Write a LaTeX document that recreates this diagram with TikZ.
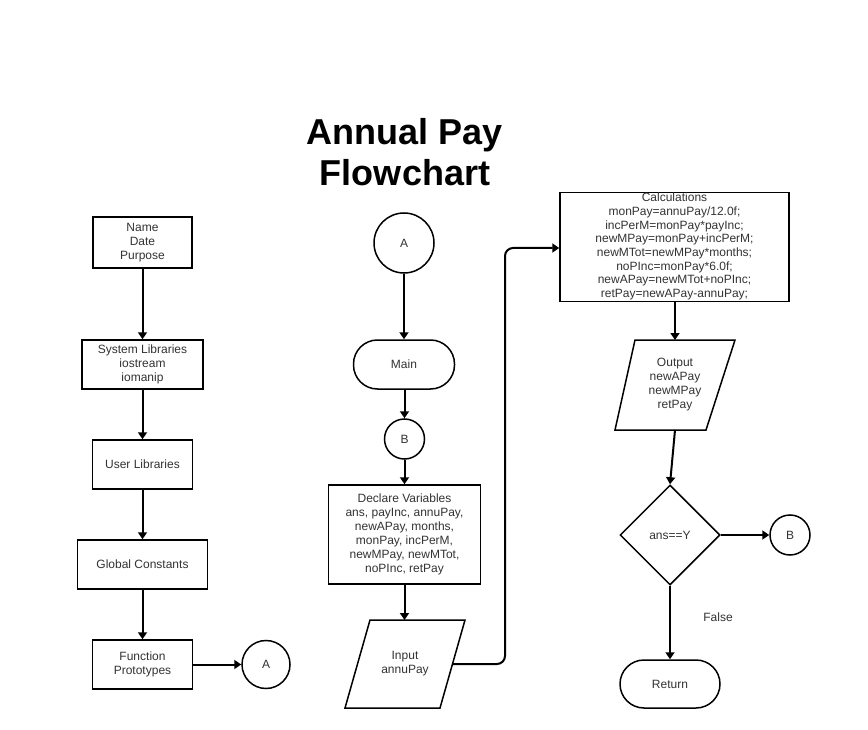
\documentclass[tikz,border=0pt]{standalone}
\usepackage{fontspec}
\setmainfont{Liberation Sans}
\usetikzlibrary{arrows.meta,shapes.geometric}
\definecolor{txt}{HTML}{333333}
\begin{document}
\begin{tikzpicture}[x=1pt,y=-1pt,
  every node/.style={font=\fontsize{12}{14}\selectfont,text=txt,inner sep=0pt,align=center},
  procbox/.style={draw,line width=1.5pt,rectangle},
  termbox/.style={draw,line width=1.5pt,rectangle,rounded corners=24pt},
  conn/.style={draw,line width=1.5pt,circle},
  decbox/.style={draw,line width=1.5pt,diamond,aspect=1,minimum width=100pt,minimum height=100pt},
  shapeline/.style={line width=1.5pt,line join=miter},
  flow/.style={line width=2pt,-{Triangle[length=7pt,width=9pt]}}
]
\useasboundingbox[fill=white] (0,0) rectangle (868,730);

% title
\node[font=\fontsize{36}{41}\selectfont\bfseries,text=black] (title) at (405,152) {Annual Pay\\Flowchart};

% left column
\node[procbox,minimum width=99pt,minimum height=51pt] (name) at (142.5,242.5) {Name\\Date\\Purpose};
\node[procbox,minimum width=121pt,minimum height=49pt] (sys) at (142.5,364.5) {System Libraries\\iostream\\iomanip};
\node[procbox,minimum width=100pt,minimum height=49pt] (user) at (142.5,464.5) {User Libraries};
\node[procbox,minimum width=130pt,minimum height=49pt] (glob) at (142.5,564.5) {Global Constants};
\node[procbox,minimum width=100pt,minimum height=49pt] (func) at (142.5,664.5) {Function\\Prototypes};
\node[conn,minimum size=48pt] (a1) at (266,664.5) {A};

\draw[flow] (name) -- (sys);
\draw[flow] (sys) -- (user);
\draw[flow] (user) -- (glob);
\draw[flow] (glob) -- (func);
\draw[flow] (func) -- (a1);

% middle column
\node[conn,minimum size=60pt] (a2) at (404,243) {A};
\node[termbox,minimum width=101pt,minimum height=49pt] (main) at (404,364.5) {Main};
\node[conn,minimum size=40pt] (b1) at (404.5,439) {B};
\node[procbox,minimum width=152pt,minimum height=99pt] (decl) at (404.5,534.5) {Declare Variables\\ans, payInc, annuPay,\\newAPay, months,\\monPay, incPerM,\\newMPay, newMTot,\\noPInc, retPay};
\draw[shapeline] (370,620) -- (465,620) -- (440,708) -- (345,708) -- cycle;
\node (inp) at (405,664) {Input\\annuPay};
\coordinate (inpT) at (404.5,620);
\coordinate (inpR) at (452.5,664);

\draw[flow] (a2) -- (main);
\draw[flow] (main.south -| b1) -- (b1);
\draw[flow] (b1) -- (decl);
\draw[flow] (decl) -- (inpT);

% right column
\node[procbox,minimum width=229pt,minimum height=109pt] (calc) at (674.5,247) {};
\node[font=\fontsize{12}{13.7}\selectfont] (calct) at (674.5,246.5) {Calculations\\monPay=annuPay/12.0f;\\incPerM=monPay*payInc;\\newMPay=monPay+incPerM;\\newMTot=newMPay*months;\\noPInc=monPay*6.0f;\\newAPay=newMTot+noPInc;\\retPay=newAPay-annuPay;};
\draw[shapeline] (635,340) -- (735,340) -- (706,430) -- (615,430) -- cycle;
\node (outp) at (675,385) {Output\\newAPay\\newMPay\\retPay};
\coordinate (outT) at (675,340);
\coordinate (outB) at (675,430);
\node[decbox] (dec) at (670,535) {ans==Y};
\node[conn,minimum size=40pt] (b2) at (790,535) {B};
\node[termbox,minimum width=100pt,minimum height=48pt] (ret) at (670,684) {Return};
\node (false) at (718,617) {False};

\draw[flow,rounded corners=8pt] (inpR) -- (505,664) -- (505,248) -- (calc.west |- 0,248);
\draw[flow] (calc.south -| outT) -- (outT);
\draw[flow] (outB) -- (dec.north);
\draw[flow] (dec) -- (b2);
\draw[flow] (dec) -- (ret);
\end{tikzpicture}
\end{document}
